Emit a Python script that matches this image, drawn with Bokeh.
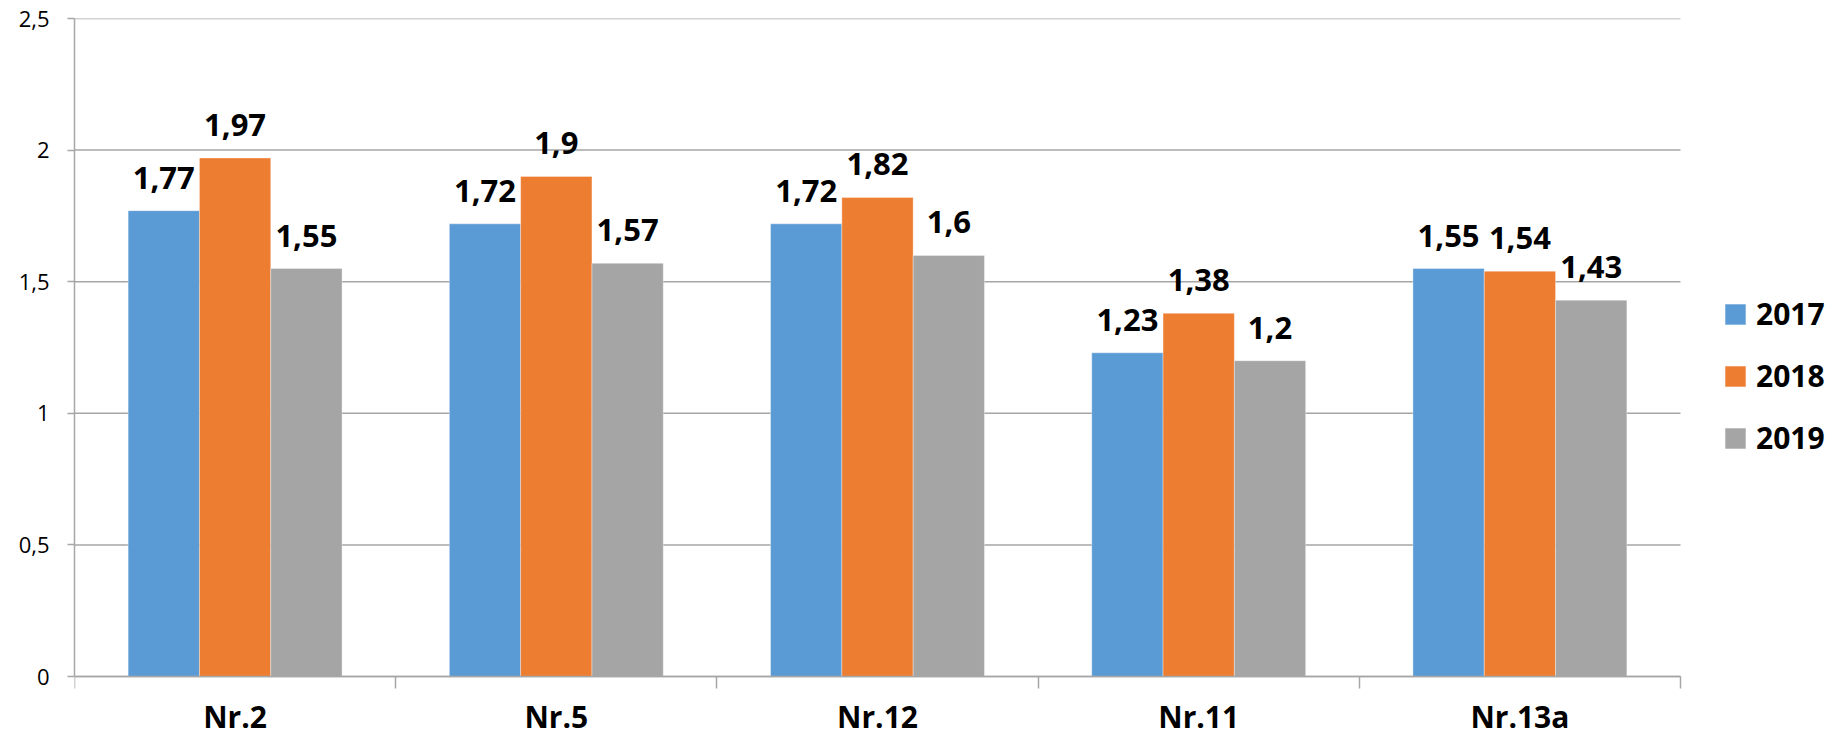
from bokeh.plotting import figure
from bokeh.models import (ColumnDataSource, Range1d, FixedTicker, LabelSet, Legend, LegendItem)
from bokeh.transform import dodge
from bokeh.core.properties import value
from bokeh.embed import file_html
from bokeh.resources import INLINE

categories = ["Nr.2", "Nr.5", "Nr.12", "Nr.11", "Nr.13a"]
years = ["2017", "2018", "2019"]
v2017 = [1.77, 1.72, 1.72, 1.23, 1.55]
v2018 = [1.97, 1.90, 1.82, 1.38, 1.54]
v2019 = [1.55, 1.57, 1.60, 1.20, 1.43]
colors = ["#5B9BD5", "#ED7D31", "#A5A5A5"]
y_ticks = [0, 0.5, 1, 1.5, 2, 2.5]

FONT = "Open Sans"
GRID = "#a6a6a6"

n = len(categories)
xc = [i + 0.5 for i in range(n)]

# the frame spans the whole width so the legend can sit inside it, right of the categories
x_end = n * (1835 - 74) / (1680 - 74)

p = figure(width=1835, height=739, output_backend="svg", toolbar_location=None,
           x_range=Range1d(0, x_end), y_range=Range1d(-0.239, 2.5),
           min_border_left=74, min_border_top=18, min_border_right=0, min_border_bottom=0)
p.outline_line_color = None
p.background_fill_color = "white"
p.border_fill_color = "white"

# horizontal gridlines limited to the category area
p.xgrid.grid_line_color = None
p.ygrid.grid_line_color = None
p.segment(x0=[0] * len(y_ticks), x1=[n] * len(y_ticks), y0=y_ticks, y1=y_ticks,
          line_color=GRID, line_width=1.5)

bw = 0.222
offsets = [-bw, 0.0, bw]
series = [v2017, v2018, v2019]
items = []
for yr, vals, col, off in zip(years, series, colors, offsets):
    src = ColumnDataSource(dict(x=xc, v=vals, lbl=[str(v).replace(".", ",") for v in vals]))
    r = p.vbar(x=dodge("x", off), top="v", bottom=0, width=bw, source=src,
               fill_color=col, line_color="white", line_alpha=0.35, line_width=1)
    items.append(LegendItem(label=yr, renderers=[r]))
    labels = LabelSet(x=dodge("x", off), y="v", text="lbl", source=src, y_offset=22,
                      text_align="center", text_baseline="alphabetic",
                      text_font=value(FONT), text_font_style="bold", text_font_size="31px",
                      text_color="black")
    p.add_layout(labels)

# x axis (drawn at y = 0)
xa = p.xaxis[0]
xa.fixed_location = 0
xa.bounds = (0, n)
xa.ticker = FixedTicker(ticks=xc, minor_ticks=list(range(n + 1)))
xa.major_label_overrides = {x: c for x, c in zip(xc, categories)}
xa.major_tick_line_color = None
xa.major_tick_out = 0
xa.major_tick_in = 0
xa.minor_tick_line_color = GRID
xa.minor_tick_line_width = 1.5
xa.minor_tick_out = 12
xa.minor_tick_in = 0
xa.axis_line_color = GRID
xa.axis_line_width = 1.5
xa.major_label_text_font = FONT
xa.major_label_text_font_style = "bold"
xa.major_label_text_font_size = "30px"
xa.major_label_text_color = "black"
xa.major_label_standoff = 7

# y axis
ya = p.yaxis[0]
ya.bounds = (0, 2.5)
ya.ticker = FixedTicker(ticks=y_ticks)
ya.major_label_overrides = {t: str(t).replace(".0", "").replace(".", ",") for t in y_ticks}
ya.minor_tick_line_color = None
ya.major_tick_line_color = GRID
ya.major_tick_line_width = 1.5
ya.major_tick_out = 7
ya.major_tick_in = 0
ya.axis_line_color = GRID
ya.axis_line_width = 1.5
ya.major_label_text_font = FONT
ya.major_label_text_font_size = "22px"
ya.major_label_text_color = "black"
ya.major_label_standoff = 18

legend = Legend(items=items, location=(1648, 281), orientation="vertical",
                glyph_width=26, glyph_height=26, label_standoff=8,
                label_text_font=FONT, label_text_font_style="bold",
                label_text_font_size="30px", label_text_color="black",
                label_height=41, spacing=21, padding=0, margin=0,
                border_line_color=None, background_fill_alpha=0)
p.add_layout(legend, "center")

open("out.html", "w").write(file_html(p, INLINE))
